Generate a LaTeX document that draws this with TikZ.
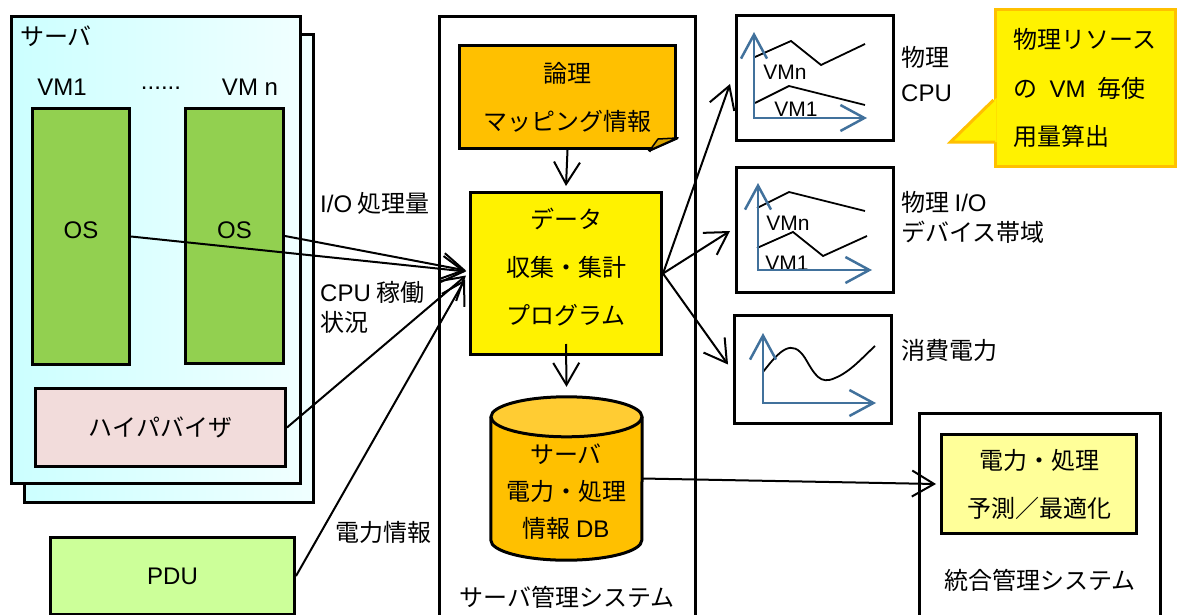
\documentclass[tikz,border=0pt]{standalone}
\usepackage{fontspec}
\setmainfont{Noto Sans CJK JP}
\newfontfamily\lat{Liberation Sans}
\usepackage{tikz}
\usetikzlibrary{shapes,shapes.geometric,arrows.meta,positioning,calc}

\definecolor{srvcyan}{HTML}{CCFFFF}
\definecolor{srvpale}{HTML}{F0FFFF}
\definecolor{osgreen}{HTML}{92D050}
\definecolor{hvpink}{HTML}{F2DCDB}
\definecolor{pdugreen}{HTML}{CCFF99}
\definecolor{maporange}{HTML}{FFC000}
\definecolor{foldorange}{HTML}{D9A300}
\definecolor{dbtop}{HTML}{FFCC33}
\definecolor{paleyellow}{HTML}{FFFF99}
\definecolor{axisblue}{HTML}{41719C}

\begin{document}
\begin{tikzpicture}[x=1pt, y=-1pt,
    box/.style={rectangle, draw, line width=3pt, inner sep=0pt, anchor=north west,
        font=\fontsize{24}{48}\selectfont, align=center},
    lbl/.style={font=\fontsize{24}{32}\selectfont, inner sep=0pt},
    flow/.style={line width=2pt, -{Straight Barb[length=22pt, width=26pt]}},
    axis/.style={line width=2.5pt, draw=axisblue,
        {Straight Barb[length=24pt, width=26pt]}-{Straight Barb[length=24pt, width=26pt]}},
    trace/.style={line width=1.8pt}]
    \useasboundingbox (0,0) rectangle (1182,615);
    \clip (0,0) rectangle (1182,615);

    % Server: two stacked frames
    \node [box, left color=srvcyan, right color=srvpale, minimum width=289pt, minimum height=468pt] (serverback) at (23,33) {};
    \node [box, left color=srvcyan, right color=srvpale, minimum width=289pt, minimum height=467pt] (server) at (10,15) {};
    \node [lbl, anchor=west] (srvname) at (20,36) {サーバ};

    % VMs
    \node [lbl] (vm1) at (62,87) {\lat VM1};
    \node [lbl] (dots) at (161,88) {\lat ......};
    \node [lbl] (vmn) at (250,87) {\lat VM n};
    \node [box, fill=osgreen, text depth=12pt, minimum width=97pt, minimum height=256pt] (os1) at (31,107) {\lat OS};
    \node [box, fill=osgreen, text depth=12pt, minimum width=98pt, minimum height=255pt] (osn) at (184,107) {\lat OS};

    % Hypervisor and PDU
    \node [box, fill=hvpink, minimum width=250pt, minimum height=78pt] (hyp) at (34,387) {ハイパバイザ};
    \node [box, fill=pdugreen, minimum width=244pt, minimum height=77pt] (pdu) at (49,536) {\lat PDU};

    % Server management system
    \node [box, minimum width=256pt, minimum height=640pt] (srvmgmt) at (438,15) {};
    \node [lbl] (srvmgmtname) at (567,597) {サーバ管理システム};
    \node [box, fill=maporange, minimum width=216pt, minimum height=103pt] (mapping) at (458,44) {論理\\マッピング情報};
    \fill [white] ($(mapping.south east)+(2,2)$) -- ($(mapping.south east)+(-29,2)$) -- ($(mapping.south east)+(2,-14)$) -- cycle;
    \draw [line width=3pt, line join=round] ($(mapping.south east)+(-28,1.5)$) -- ($(mapping.south east)+(-27,0)$) -- ($(mapping.south east)+(0,-12)$) -- ($(mapping.south east)+(0,-13)$);
    \draw [fill=foldorange, line width=1.5pt, line join=round] ($(mapping.south east)+(-27,0)$) -- ($(mapping.south east)+(-19,-11)$) -- ($(mapping.south east)+(0,-12)$) -- cycle;
    \node [box, fill=yellow, text depth=15pt, minimum width=191pt, minimum height=162pt] (data) at (469,191) {データ\\収集・集計\\プログラム};

    % Database cylinder
    \node [minimum width=151pt, minimum height=163pt, inner sep=0pt] (db) at (566.5,478.5) {};
    \draw [line width=3pt, fill=maporange] ($(db.north west)+(0,20)$) -- ($(db.south west)+(0,-20)$)
        arc [start angle=180, end angle=360, x radius=75.5pt, y radius=20pt] -- ($(db.north east)+(0,20)$);
    \draw [line width=3pt, fill=dbtop] ($(db.north)+(0,20)$) ellipse [x radius=75.5pt, y radius=20pt];
    \node [lbl, align=center, font=\fontsize{24}{37}\selectfont] (dbtext) at (566,492) {サーバ\\電力・処理\\情報 {\lat DB}};

    % Charts
    \node [box, minimum width=157pt, minimum height=125pt] (cpuchart) at (735,14) {};
    \node [box, minimum width=157pt, minimum height=125pt] (iochart) at (735,166) {};
    \node [box, minimum width=157pt, minimum height=108pt] (pwrchart) at (733,314) {};

    \node [lbl, font=\fontsize{21}{24}\selectfont] (cpuvmn) at (785,72) {\lat VMn};
    \node [lbl, font=\fontsize{21}{24}\selectfont] (cpuvm1) at (796,109) {\lat VM1};
    \draw [trace] (755,57) -- (791,41) -- (821,65) -- (865,44);
    \draw [trace] (755,103) -- (789,86) -- (865,105);
    \draw [axis] (754,32) -- (754,118) -- (867,118);

    \node [lbl, font=\fontsize{21}{24}\selectfont] (iovmn) at (788,223) {\lat VMn};
    \node [lbl, font=\fontsize{21}{24}\selectfont] (iovm1) at (787,263) {\lat VM1};
    \draw [trace] (757,208) -- (789,192) -- (865,211);
    \draw [trace] (757,248) -- (793,232) -- (823,256) -- (867,236);
    \draw [axis] (758,183) -- (758,270) -- (872,270);

    \draw [trace] (763,372) .. controls (780,350) and (792,338) .. (805,358)
        .. controls (815,375) and (820,385) .. (835,378)
        .. controls (850,372) and (862,358) .. (875,346);
    \draw [axis] (763,333) -- (763,403) -- (876,403);

    \node [lbl, anchor=west, align=left, font=\fontsize{24}{35}\selectfont] (cpulbl) at (901,74) {物理\\{\lat CPU}};
    \node [lbl, anchor=west, align=left, font=\fontsize{24}{30}\selectfont] (iolbl) at (901,217) {物理 {\lat I/O}\\デバイス帯域};
    \node [lbl, anchor=west] (pwrlbl) at (901,350) {消費電力};

    % Callout with its pointer
    \node [rectangle, fill=yellow, draw=maporange, line width=3pt,
        minimum width=180pt, minimum height=156pt, inner sep=0pt,
        font=\fontsize{24}{48.5}\selectfont, align=left] (note) at (1085,88)
        {物理リソース\\の\hspace{12pt}{\lat VM}\hspace{12pt}毎使\\用量算出};
    \fill [yellow] ($(note.west)+(3,10)$) -- ($(note.west)+(-43,54)$) -- ($(note.west)+(3,54)$) -- cycle;
    \draw [draw=maporange, line width=3pt] ($(note.west)+(0,12)$) -- ($(note.west)+(-43,54)$) -- ($(note.west)+(1.5,54)$);

    % Integrated management system
    \node [box, minimum width=241pt, minimum height=240pt] (intmgmt) at (918,412) {};
    \node [lbl] (intmgmtname) at (1040,580) {統合管理システム};
    \node [box, fill=paleyellow, minimum width=195pt, minimum height=99pt] (predict) at (940,433) {電力・処理\\予測／最適化};

    % Measurement labels
    \node [lbl, anchor=west] (iolabel) at (320,203) {{\lat I/O} 処理量};
    \node [lbl, anchor=west, align=left, font=\fontsize{24}{30}\selectfont] (cpulabel) at (320,307) {{\lat CPU} 稼働\\状況};
    \node [lbl, anchor=west] (pwrlabel) at (335,532) {電力情報};

    % Data flow
    \draw [flow] (os1.east) -- ([xshift=-3pt, yshift=2pt]data.west);
    \draw [flow] (osn.east) -- ([xshift=-3pt, yshift=3pt]data.west);
    \draw [flow] (hyp.east) -- ([xshift=-3pt, yshift=-2pt]data.west);
    \draw [flow] (pdu.east) -- ([xshift=-4pt, yshift=-6pt]data.west);
    \draw [flow] (mapping.south) -- ([yshift=5pt]data.north);
    \draw [flow] ([yshift=12pt]data.south) -- ([yshift=10pt]db.north);
    \draw [flow] (data.east) -- ([xshift=-5pt, yshift=-6pt]cpuchart.west);
    \draw [flow] (data.east) -- ([xshift=-5pt, yshift=-1pt]iochart.west);
    \draw [flow] (data.east) -- ([xshift=-5pt, yshift=5pt]pwrchart.west);
    \draw [flow] (db.east) -- ([xshift=-4pt]predict.west);
\end{tikzpicture}
\end{document}
